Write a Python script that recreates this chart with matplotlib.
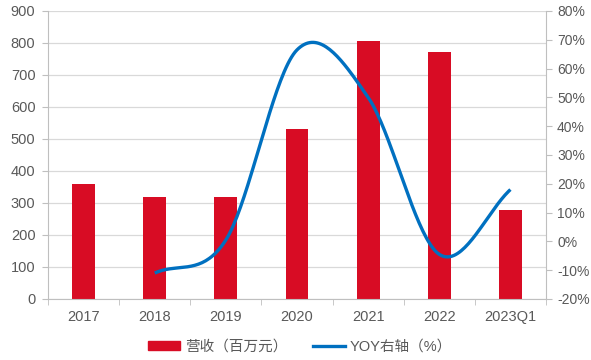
import numpy as np
import matplotlib.pyplot as plt
from matplotlib.lines import Line2D
from matplotlib.patches import Patch

plt.rcParams['font.family'] = ['Liberation Sans', 'Noto Sans CJK SC', 'DejaVu Sans']

years = ['2017', '2018', '2019', '2020', '2021', '2022', '2023Q1']
revenue = [360, 320, 320, 530, 805, 773, 278]          # 营收, 百万元
yoy = [None, -11.0, 0.5, 66.5, 50.0, -4.5, 18.0]       # YOY, %

bar_color = '#D80C24'
line_color = '#0070C0'
text_color = '#595959'
grid_color = '#D9D9D9'


def smooth(xs, ys, n=40):
    # Catmull-Rom style smoothing, similar to a smoothed line in office charts
    xs = np.asarray(xs, float)
    ys = np.asarray(ys, float)
    px, py = [], []
    for i in range(len(xs) - 1):
        x0, x1 = xs[i], xs[i + 1]
        y0, y1 = ys[i], ys[i + 1]
        yp = ys[i - 1] if i > 0 else y0
        yn = ys[i + 2] if i + 2 < len(ys) else y1
        m0 = (y1 - yp) / (2 if i > 0 else 1)
        m1 = (yn - y0) / (2 if i + 2 < len(ys) else 1)
        t = np.linspace(0, 1, n)
        h00 = 2 * t**3 - 3 * t**2 + 1
        h10 = t**3 - 2 * t**2 + t
        h01 = -2 * t**3 + 3 * t**2
        h11 = t**3 - t**2
        px.extend(x0 + (x1 - x0) * t)
        py.extend(h00 * y0 + h10 * m0 + h01 * y1 + h11 * m1)
    return np.array(px), np.array(py)


fig = plt.figure(figsize=(5.91, 3.6), dpi=100)
ax = fig.add_axes([48 / 591, 1 - 299 / 360, 498 / 591, 288 / 360])
x = np.arange(len(years))
ax.bar(x, revenue, width=0.32, color=bar_color, zorder=2)
ax.set_xlim(-0.5, len(years) - 0.5)
ax.set_ylim(0, 900)
ax.set_yticks(range(0, 901, 100))
ax.set_xticks(x)
ax.set_xticklabels(years)
ax.set_xticks(np.arange(-0.5, len(years), 1), minor=True)
ax.tick_params(axis='x', which='major', length=0, pad=8)
ax.tick_params(axis='x', which='minor', length=4, color='#BFBFBF', direction='out')
ax.tick_params(axis='y', length=4, color='#BFBFBF', pad=5)
ax.tick_params(labelsize=10.5, labelcolor=text_color)
ax.grid(axis='y', color=grid_color, linewidth=0.9, zorder=0)
ax.set_axisbelow(True)
for side in ['top', 'right']:
    ax.spines[side].set_visible(False)
for side in ['left', 'bottom']:
    ax.spines[side].set_color('#BFBFBF')

ax2 = ax.twinx()
xi = [i for i, v in enumerate(yoy) if v is not None]
yi = [v for v in yoy if v is not None]
sx, sy = smooth(xi, yi)
ax2.plot(sx, sy, color=line_color, linewidth=2.4, solid_capstyle='butt', zorder=3)
ax2.set_ylim(-20, 80)
ax2.set_yticks(range(-20, 81, 10))
ax2.set_yticklabels([f'{v}%' for v in range(-20, 81, 10)])
ax2.tick_params(axis='y', length=4, color='#BFBFBF', pad=4, labelsize=10, labelcolor=text_color)
for side in ['top', 'left', 'bottom']:
    ax2.spines[side].set_visible(False)
ax2.spines['right'].set_color('#BFBFBF')

handles = [Patch(color=bar_color, label='营收（百万元）'),
           Line2D([], [], color=line_color, linewidth=2.4, label='YOY右轴（%）')]
leg = fig.legend(handles=handles, loc='center', bbox_to_anchor=(0.508, 1 - 347 / 360),
                 ncol=2, frameon=False, fontsize=10.5, handlelength=2.2, handleheight=0.6,
                 columnspacing=1.8, handletextpad=0.3)
for t in leg.get_texts():
    t.set_color(text_color)

fig.savefig('out.png', dpi=100)
